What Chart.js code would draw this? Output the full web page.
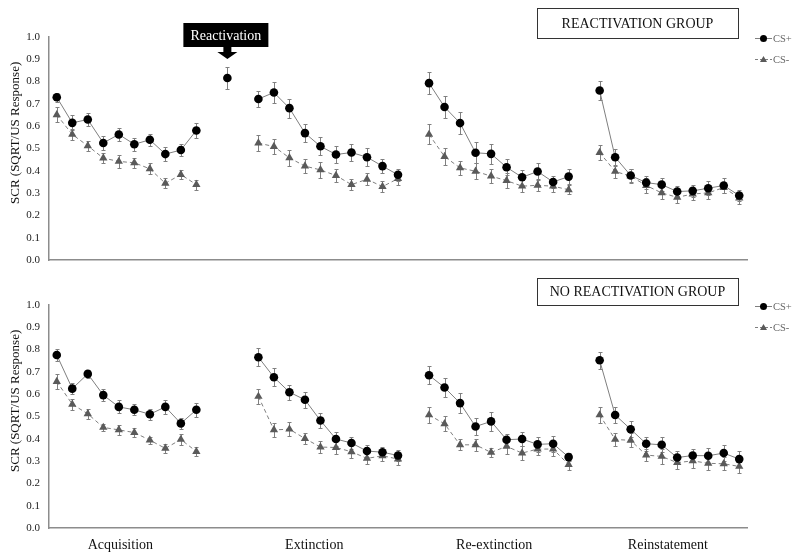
<!DOCTYPE html>
<html><head><meta charset="utf-8">
<script src="https://cdn.jsdelivr.net/npm/chart.js@4.4.1/dist/chart.umd.min.js"></script>
<style>
html,body{margin:0;padding:0;background:#fff;}
#wrap{position:relative;width:800px;height:559px;background:#fff;}
canvas{position:absolute;left:0;top:0;}
</style></head><body>
<div id="wrap"><canvas id="cTop" width="800" height="559"></canvas><canvas id="cBot" width="800" height="559"></canvas></div>
<script>
// ---------- DATA ----------
const phases = ['Acquisition', 'Extinction', 'Re-extinction', 'Reinstatement'];
const yTicks = [0, 0.1, 0.2, 0.3, 0.4, 0.5, 0.6, 0.7, 0.8, 0.9, 1.0];
const seriesNames = ['CS+', 'CS-'];

// Reactivation group
const reAcqPlus = [0.730, 0.615, 0.630, 0.525, 0.563, 0.519, 0.539, 0.475, 0.493, 0.581];
const reAcqPlusErr = [0.020, 0.034, 0.028, 0.030, 0.030, 0.030, 0.026, 0.030, 0.025, 0.035];
const reAcqMinus = [0.651, 0.563, 0.512, 0.457, 0.442, 0.436, 0.409, 0.344, 0.383, 0.338];
const reAcqMinusErr = [0.034, 0.023, 0.021, 0.021, 0.028, 0.022, 0.025, 0.022, 0.020, 0.022];
const reReactPlus = 0.816;
const reReactPlusErr = 0.050;
const reExtPlus = [0.722, 0.751, 0.681, 0.569, 0.510, 0.473, 0.482, 0.461, 0.421, 0.382];
const reExtPlusErr = [0.037, 0.045, 0.043, 0.040, 0.040, 0.036, 0.040, 0.040, 0.033, 0.026];
const reExtMinus = [0.524, 0.509, 0.458, 0.421, 0.404, 0.379, 0.338, 0.362, 0.329, 0.365];
const reExtMinusErr = [0.035, 0.034, 0.036, 0.032, 0.036, 0.027, 0.025, 0.027, 0.025, 0.027];
const reReextPlus = [0.793, 0.686, 0.614, 0.481, 0.476, 0.416, 0.371, 0.397, 0.350, 0.374];
const reReextPlusErr = [0.048, 0.050, 0.050, 0.046, 0.045, 0.037, 0.034, 0.036, 0.028, 0.033];
const reReextMinus = [0.563, 0.464, 0.413, 0.398, 0.376, 0.356, 0.331, 0.335, 0.331, 0.315];
const reReextMinusErr = [0.045, 0.037, 0.033, 0.037, 0.030, 0.034, 0.027, 0.025, 0.025, 0.020];
const reReinstPlus = [0.760, 0.461, 0.379, 0.347, 0.338, 0.307, 0.310, 0.322, 0.334, 0.289];
const reReinstPlusErr = [0.043, 0.038, 0.028, 0.028, 0.030, 0.024, 0.028, 0.032, 0.034, 0.026];
const reReinstMinus = [0.482, 0.397, 0.376, 0.334, 0.301, 0.281, 0.296, 0.301, 0.325, 0.278];
const reReinstMinusErr = [0.035, 0.031, 0.030, 0.033, 0.026, 0.024, 0.026, 0.026, 0.025, 0.028];

// No reactivation group
const noAcqPlus = [0.776, 0.625, 0.691, 0.596, 0.543, 0.530, 0.510, 0.543, 0.469, 0.530];
const noAcqPlusErr = [0.025, 0.025, 0.018, 0.028, 0.029, 0.024, 0.025, 0.031, 0.026, 0.030];
const noAcqMinus = [0.657, 0.555, 0.512, 0.451, 0.440, 0.428, 0.394, 0.357, 0.397, 0.343];
const noAcqMinusErr = [0.032, 0.025, 0.022, 0.017, 0.022, 0.022, 0.016, 0.021, 0.025, 0.022];
const noExtPlus = [0.766, 0.676, 0.609, 0.575, 0.482, 0.399, 0.381, 0.345, 0.340, 0.325];
const noExtPlusErr = [0.039, 0.040, 0.034, 0.036, 0.033, 0.033, 0.028, 0.027, 0.022, 0.026];
const noExtMinus = [0.590, 0.440, 0.443, 0.401, 0.363, 0.361, 0.342, 0.312, 0.324, 0.309];
const noExtMinusErr = [0.035, 0.031, 0.032, 0.025, 0.028, 0.028, 0.030, 0.025, 0.025, 0.027];
const noReextPlus = [0.685, 0.630, 0.560, 0.455, 0.478, 0.396, 0.399, 0.375, 0.378, 0.318];
const noReextPlusErr = [0.041, 0.043, 0.044, 0.037, 0.043, 0.027, 0.031, 0.034, 0.036, 0.017];
const noReextMinus = [0.507, 0.467, 0.373, 0.373, 0.339, 0.366, 0.336, 0.354, 0.354, 0.284];
const noReextMinusErr = [0.034, 0.034, 0.025, 0.027, 0.021, 0.033, 0.030, 0.027, 0.030, 0.025];
const noReinstPlus = [0.752, 0.507, 0.443, 0.378, 0.373, 0.316, 0.325, 0.324, 0.336, 0.309];
const noReinstPlusErr = [0.039, 0.037, 0.037, 0.032, 0.033, 0.028, 0.028, 0.035, 0.035, 0.037];
const noReinstMinus = [0.507, 0.397, 0.393, 0.327, 0.321, 0.293, 0.301, 0.290, 0.288, 0.276];
const noReinstMinusErr = [0.035, 0.028, 0.032, 0.028, 0.033, 0.028, 0.030, 0.030, 0.030, 0.030];

// ---------- BUILD ----------
// slots: acq(10) gap react gap ext(10) gap reext(10) gap reinst(10)
function build(acq, react, ext, reext, reinst) {
  return [...acq, null, react, null, ...ext, null, ...reext, null, ...reinst];
}
const labels = [];
(function () {
  const parts = [[phases[0], 10], ['gap', 1], ['Reactivation', 1], ['gap', 1], [phases[1], 10], ['gap', 1], [phases[2], 10], ['gap', 1], [phases[3], 10]];
  let g = 0;
  parts.forEach(([n, c]) => { for (let i = 0; i < c; i++) labels.push(n === 'gap' ? 'gap' + (g++) : n + ' ' + (i + 1)); });
})();

const FONT = "'Liberation Serif', 'Times New Roman', serif";
const LINE_GRAY = '#7f7f7f';
const TRI_GRAY = '#5a5a5a';

const errorBars = {
  id: 'errorBars',
  beforeDatasetsDraw(chart) {
    const ctx = chart.ctx, ys = chart.scales.y;
    chart.data.datasets.forEach((ds, di) => {
      if (!ds.errors) return;
      const meta = chart.getDatasetMeta(di);
      ctx.save();
      ctx.strokeStyle = '#808080';
      ctx.lineWidth = 1;
      ds.data.forEach((v, i) => {
        const e = ds.errors[i];
        if (v == null || e == null) return;
        const x = Math.round(meta.data[i].x) + 0.5;
        const y1 = Math.round(ys.getPixelForValue(v + e)) + 0.5;
        const y2 = Math.round(ys.getPixelForValue(v - e)) + 0.5;
        ctx.beginPath();
        ctx.moveTo(x, y1); ctx.lineTo(x, y2);
        ctx.moveTo(x - 2, y1); ctx.lineTo(x + 2, y1);
        ctx.moveTo(x - 2, y2); ctx.lineTo(x + 2, y2);
        ctx.stroke();
      });
      ctx.restore();
    });
  }
};

const decorations = {
  id: 'decorations',
  afterDraw(chart, args, opts) {
    const ctx = chart.ctx, ca = chart.chartArea;
    ctx.save();
    // y axis title
    ctx.save();
    ctx.translate(16, ca.top + 0.43 * (ca.bottom - ca.top));
    ctx.rotate(-Math.PI / 2);
    ctx.fillStyle = '#111';
    ctx.font = '13px ' + FONT;
    ctx.textAlign = 'center'; ctx.textBaseline = 'middle';
    ctx.fillText('SCR (SQRT/US Response)', 0, 0);
    ctx.restore();
    // group box
    const b = opts.box;
    ctx.fillStyle = '#fff';
    ctx.fillRect(b.x, b.y, b.w, b.h);
    ctx.strokeStyle = '#333'; ctx.lineWidth = 1;
    ctx.strokeRect(b.x + 0.5, b.y + 0.5, b.w, b.h);
    ctx.fillStyle = '#111';
    ctx.font = '14px ' + FONT;
    ctx.textAlign = 'center'; ctx.textBaseline = 'middle';
    ctx.fillText(b.text, b.x + b.w / 2, b.y + b.h / 2 + 1);
    // legend
    const lg = opts.legend;
    const names = seriesNames;
    for (let k = 0; k < 2; k++) {
      const ly = lg.y + k * lg.gap;
      ctx.save();
      ctx.strokeStyle = LINE_GRAY;
      ctx.lineWidth = 1;
      if (k === 1) ctx.setLineDash([3, 2]);
      ctx.beginPath(); ctx.moveTo(lg.x, ly + 0.5); ctx.lineTo(lg.x + 17, ly + 0.5); ctx.stroke();
      ctx.restore();
      ctx.fillStyle = k === 0 ? '#000' : TRI_GRAY;
      ctx.beginPath();
      if (k === 0) { ctx.arc(lg.x + 8.5, ly + 0.5, 3.5, 0, Math.PI * 2); }
      else { ctx.moveTo(lg.x + 8.5, ly - 3); ctx.lineTo(lg.x + 12, ly + 3); ctx.lineTo(lg.x + 5, ly + 3); ctx.closePath(); }
      ctx.fill();
      ctx.fillStyle = '#666';
      ctx.font = '10.5px ' + FONT;
      ctx.textAlign = 'left'; ctx.textBaseline = 'middle';
      ctx.fillText(names[k], lg.x + 18, ly + 1);
    }
    // reactivation callout
    if (opts.callout) {
      const xs = chart.scales.x;
      const cx = xs.getPixelForValue(opts.callout.slot);
      const bx = cx - 44, by = 23, bw = 85, bh = 24;
      ctx.fillStyle = '#000';
      ctx.fillRect(bx, by, bw, bh);
      ctx.fillStyle = '#fff';
      ctx.font = '14px ' + FONT;
      ctx.textAlign = 'center'; ctx.textBaseline = 'middle';
      ctx.fillText(opts.callout.text, bx + bw / 2, by + bh / 2 + 1);
      ctx.fillStyle = '#000';
      ctx.beginPath();
      ctx.moveTo(cx - 4, by + bh); ctx.lineTo(cx + 4, by + bh);
      ctx.lineTo(cx + 4, by + bh + 5); ctx.lineTo(cx + 10, by + bh + 5);
      ctx.lineTo(cx, by + bh + 12); ctx.lineTo(cx - 10, by + bh + 5);
      ctx.lineTo(cx - 4, by + bh + 5); ctx.closePath();
      ctx.fill();
    }
    // phase labels
    if (opts.phaseLabels) {
      const xs = chart.scales.x;
      ctx.fillStyle = '#111';
      ctx.font = '14px ' + FONT;
      ctx.textAlign = 'center'; ctx.textBaseline = 'middle';
      opts.phaseLabels.slots.forEach((s, i) => {
        ctx.fillText(phases[i], xs.getPixelForValue(s), opts.phaseLabels.y);
      });
    }
    ctx.restore();
  }
};

function makeChart(id, plus, plusErr, minus, minusErr, padTop, padBottom, deco) {
  return new Chart(document.getElementById(id), {
    type: 'line',
    data: {
      labels: labels,
      datasets: [
        {
          label: seriesNames[0], data: plus, errors: plusErr,
          borderColor: LINE_GRAY, borderWidth: 1,
          pointStyle: 'circle', pointRadius: 4.3, pointBackgroundColor: '#000', pointBorderColor: '#000', pointBorderWidth: 0,
          spanGaps: false, tension: 0
        },
        {
          label: seriesNames[1], data: minus, errors: minusErr,
          borderColor: LINE_GRAY, borderWidth: 1, borderDash: [4, 3],
          pointStyle: 'triangle', pointRadius: 4.8, pointBackgroundColor: TRI_GRAY, pointBorderColor: TRI_GRAY, pointBorderWidth: 0,
          spanGaps: false, tension: 0
        }
      ]
    },
    options: {
      responsive: false, animation: false, devicePixelRatio: 1,
      layout: { padding: { top: padTop, bottom: padBottom, left: 0, right: 53 } },
      plugins: { legend: { display: false }, tooltip: { enabled: false }, decorations: deco },
      scales: {
        x: {
          type: 'category', offset: true,
          grid: { display: false, drawTicks: false },
          border: { display: true, color: '#8c8c8c', width: 1.5 },
          ticks: { display: false },
          afterFit(s) { s.height = 0; s.paddingLeft = 0; s.paddingRight = 0; }
        },
        y: {
          min: 0, max: 1,
          afterBuildTicks(s) { s.ticks = yTicks.map(v => ({ value: v })); },
          grid: { display: false, drawTicks: false },
          border: { display: true, color: '#8c8c8c', width: 1.5 },
          ticks: { padding: 9, color: '#222', font: { family: FONT, size: 11 }, callback: v => Number(v).toFixed(1) },
          afterFit(s) { s.width = 49; s.paddingTop = 0; s.paddingBottom = 0; }
        }
      }
    },
    plugins: [errorBars, decorations]
  });
}

makeChart('cTop',
  build(reAcqPlus, reReactPlus, reExtPlus, reReextPlus, reReinstPlus),
  build(reAcqPlusErr, reReactPlusErr, reExtPlusErr, reReextPlusErr, reReinstPlusErr),
  build(reAcqMinus, null, reExtMinus, reReextMinus, reReinstMinus),
  build(reAcqMinusErr, null, reExtMinusErr, reReextMinusErr, reReinstMinusErr),
  37, 299,
  { box: { x: 537, y: 8, w: 201, h: 30, text: 'REACTIVATION GROUP' }, legend: { x: 755, y: 38, gap: 21 }, callout: { slot: 11, text: 'Reactivation' } }
);
makeChart('cBot',
  build(noAcqPlus, null, noExtPlus, noReextPlus, noReinstPlus),
  build(noAcqPlusErr, null, noExtPlusErr, noReextPlusErr, noReinstPlusErr),
  build(noAcqMinus, null, noExtMinus, noReextMinus, noReinstMinus),
  build(noAcqMinusErr, null, noExtMinusErr, noReextMinusErr, noReinstMinusErr),
  305, 31,
  { box: { x: 537, y: 278, w: 201, h: 27, text: 'NO REACTIVATION GROUP' }, legend: { x: 755, y: 306, gap: 21 }, phaseLabels: { slots: [4.1, 16.6, 28.2, 39.4], y: 545 } }
);
</script>
</body></html>
